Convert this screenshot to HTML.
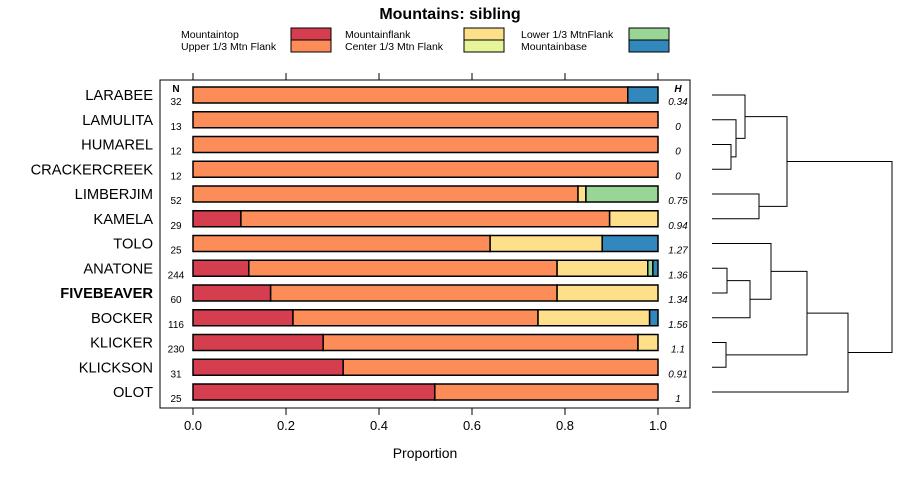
<!DOCTYPE html>
<html><head><meta charset="utf-8"><style>
body{margin:0;background:#fff;}
svg text{font-family:"Liberation Sans",sans-serif;}
</style></head><body>
<svg id="c" width="900" height="480" xmlns="http://www.w3.org/2000/svg">
<text x="450" y="19" text-anchor="middle" font-size="16" font-weight="bold">Mountains: sibling</text>
<g id="legend"></g>
<rect x="160" y="80" width="530" height="328" fill="none" stroke="#000" stroke-width="1"/>
<g id="axes"></g><g id="bars"></g><g id="dend"></g>
<text x="425" y="458" text-anchor="middle" font-size="14">Proportion</text>
<text x="176" y="92" text-anchor="middle" font-size="10" font-weight="bold">N</text>
<text x="678" y="92" text-anchor="middle" font-size="10" font-weight="bold" font-style="italic">H</text>
</svg>
<script>
const categories=["LARABEE","LAMULITA","HUMAREL","CRACKERCREEK","LIMBERJIM","KAMELA","TOLO","ANATONE","FIVEBEAVER","BOCKER","KLICKER","KLICKSON","OLOT"];
const nValues=[32,13,12,12,52,29,25,244,60,116,230,31,25];
const hValues=["0.34","0","0","0","0.75","0.94","1.27","1.36","1.34","1.56","1.1","0.91","1"];
const seriesNames=["Mountaintop","Upper 1/3 Mtn Flank","Mountainflank","Center 1/3 Mtn Flank","Lower 1/3 MtnFlank","Mountainbase"];
const colors=["#d53e4f","#fc8d59","#fee08b","#e6f598","#99d594","#3288bd"];
const mountaintop=[0,0,0,0,0,0.103,0,0.12,0.167,0.215,0.28,0.323,0.52];
const upperFlank=[0.935,1,1,1,0.828,0.793,0.639,0.663,0.616,0.527,0.677,0.677,0.48];
const mountainflank=[0,0,0,0,0.017,0.104,0.241,0.195,0.217,0.24,0.043,0,0];
const centerFlank=[0,0,0,0,0,0,0,0,0,0,0,0,0];
const lowerFlank=[0,0,0,0,0.155,0,0,0.011,0,0,0,0,0];
const mountainbase=[0.065,0,0,0,0,0,0.12,0.011,0,0.018,0,0,0];
const xTicks=[0,0.2,0.4,0.6,0.8,1.0];
const xTickLabels=["0.0","0.2","0.4","0.6","0.8","1.0"];
const series=[mountaintop,upperFlank,mountainflank,centerFlank,lowerFlank,mountainbase];
const NS="http://www.w3.org/2000/svg";
const x=v=>193+465*v;
const y=i=>95+24.75*i;
function mk(t,a,p){const e=document.createElementNS(NS,t);for(const k in a)e.setAttribute(k,a[k]);p.appendChild(e);return e;}
const ax=document.getElementById('axes');
xTicks.forEach((t,i)=>{
 const l1=mk('line',{x1:x(t),x2:x(t),y1:73,y2:80,stroke:'#000'},ax);
 
 
 const l2=mk('line',{x1:x(t),x2:x(t),y1:408,y2:415,stroke:'#000'},ax);
 
 
 const tx=mk('text',{x:x(t),y:430,'text-anchor':'middle','font-size':13},ax);tx.textContent=xTickLabels[i];
 
 
});
const bg=document.getElementById('bars');
categories.forEach((c,i)=>{
 const lab=mk('text',{x:153,y:y(i)+5,'text-anchor':'end','font-size':14.7,'font-weight':c==='FIVEBEAVER'?'bold':'normal'},bg);lab.textContent=c;
 
 
 const n=mk('text',{x:176,y:y(i)+10,'text-anchor':'middle','font-size':10},bg);n.textContent=nValues[i];
 
 
 const h=mk('text',{x:678,y:y(i)+10,'text-anchor':'middle','font-size':10,'font-style':'italic'},bg);h.textContent=hValues[i];
 
 
 let acc=0;
 series.forEach((s,k)=>{
  const v=s[i];if(v<=0)return;
  const r=mk('rect',{x:x(acc),y:y(i)-8,width:x(acc+v)-x(acc),height:16,fill:colors[k],stroke:'#000','stroke-width':1.5},bg);
  
  
  acc+=v;
 });
});
const lg=document.getElementById('legend');
seriesNames.forEach((s,k)=>{
 const col=Math.floor(k/2),row=k%2;
 const lx=[181,345,521][col],bx=[291,464,629][col];
 const t=mk('text',{x:lx,y:38+row*12,'font-size':10.5},lg);t.textContent=s;
 
 
 const r=mk('rect',{x:bx,y:28+row*12,width:40,height:12,fill:colors[k],stroke:'#000'},lg);
 
 
});
const dg=document.getElementById('dend');
function node(y1,x1,y2,x2,mx){
 const p=mk('path',{d:`M${x1},${y1}H${mx}V${y2}H${x2}`,fill:'none',stroke:'#000','stroke-width':1},dg);
 
 
 return [(y1+y2)/2,mx];
}
const L=712;
let a=node(y(2),L,y(3),L,731);
a=node(y(1),L,a[0],a[1],736);
a=node(y(0),L,a[0],a[1],745);
let b=node(y(4),L,y(5),L,759);
const upperRoot=node(a[0],a[1],b[0],b[1],787);
let cc=node(y(7),L,y(8),L,727);
cc=node(cc[0],cc[1],y(9),L,750);
cc=node(y(6),L,cc[0],cc[1],771);
let d=node(y(10),L,y(11),L,726);
cc=node(cc[0],cc[1],d[0],d[1],807);
cc=node(cc[0],cc[1],y(12),L,848);
node(upperRoot[0],upperRoot[1],cc[0],cc[1],892);
</script>
</body></html>
